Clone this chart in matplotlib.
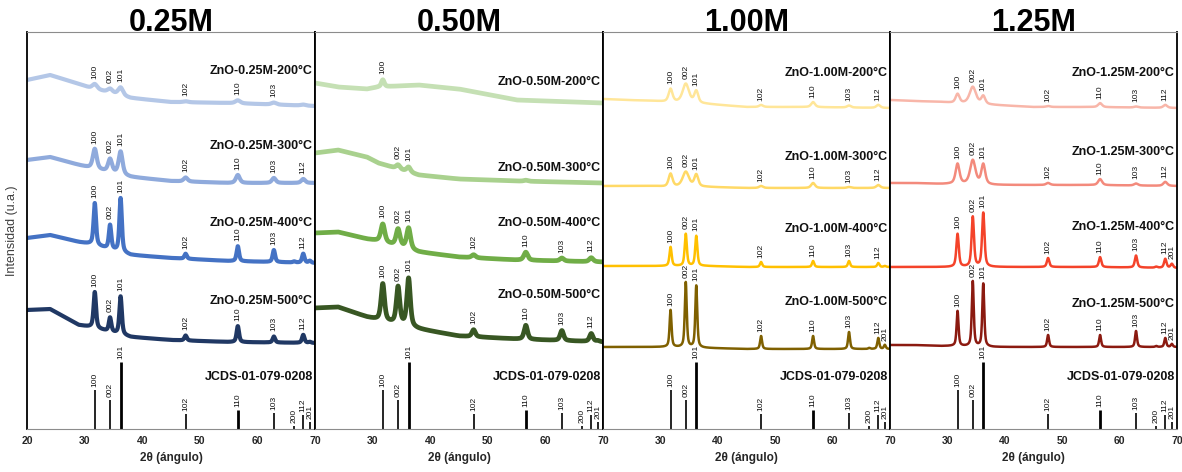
import numpy as np
import matplotlib.pyplot as plt

plt.rcParams['font.family'] = ['Liberation Sans', 'DejaVu Sans']

# ZnO reference pattern (JCDS-01-079-0208)
hkl = ['100', '002', '101', '102', '110', '103', '200', '112', '201']
two_theta = [31.77, 34.42, 36.25, 47.54, 56.60, 62.86, 66.38, 67.96, 69.10]
ref_height = [39, 29, 67, 15, 19, 16, 3, 14, 7]

concentrations = ['0.25M', '0.50M', '1.00M', '1.25M']
temperatures = ['200°C', '300°C', '400°C', '500°C']

# background level read at these 2theta values (rows: 200, 300, 400, 500 °C)
bg_knots = [20, 24, 29, 31, 38, 45, 55, 70]

bg_025 = [[349, 354, 345, 341, 331, 327, 326, 323],
          [269, 272, 264, 261, 252, 248, 246, 246],
          [191, 194, 187, 185, 174, 171, 168, 166],
          [119, 120, 104, 102, 92, 89, 87, 86]]
bg_050 = [[346, 342, 340, 342, 344, 340, 329, 326],
          [276, 279, 272, 266, 254, 250, 248, 246],
          [196, 197, 190, 188, 177, 172, 169, 167],
          [121, 122, 112, 109, 100, 93, 90, 87]]
bg_100 = [[330, 329, 328, 327, 325, 322, 322, 321],
          [243, 243, 243, 242, 242, 241, 241, 241],
          [163, 163, 163, 163, 163, 162, 162, 162],
          [82, 82, 82, 82, 81, 80, 80, 80]]
bg_125 = [[329, 328, 327, 326, 324, 322, 322, 321],
          [246, 246, 245, 245, 244, 244, 244, 243],
          [162, 162, 162, 162, 162, 162, 162, 161],
          [84, 84, 83, 83, 82, 82, 82, 82]]

# peak heights above background, same order as hkl
peaks_025 = [[5, 4, 8, 1, 3, 2, 0, 1, 0],
             [20, 13, 23, 4, 8, 5, 0, 4, 0],
             [42, 24, 54, 5, 15, 12, 1, 9, 2],
             [36, 14, 38, 5, 16, 6, 0, 8, 1]]
peaks_050 = [[7, 0, 0, 0, 0, 0, 0, 0, 0],
             [0, 4, 5, 0, 1, 0, 0, 0, 0],
             [18, 17, 21, 3, 8, 3, 0, 4, 0],
             [37, 37, 48, 7, 14, 10, 0, 8, 1]]
peaks_100 = [[13, 19, 12, 2, 5, 2, 0, 3, 0],
             [13, 15, 12, 2, 5, 1, 0, 3, 0],
             [19, 32, 30, 5, 6, 6, 0, 4, 1],
             [37, 65, 62, 13, 13, 17, 1, 11, 4]]
peaks_125 = [[9, 17, 8, 1, 4, 1, 0, 3, 0],
             [20, 24, 20, 2, 6, 2, 0, 4, 0],
             [33, 50, 54, 9, 10, 12, 1, 9, 4],
             [35, 65, 63, 12, 12, 16, 1, 9, 3]]

# peak widths (deg), and the separate width of the 002 reflection
fwhm_025 = [1.0, 0.8, 0.5, 0.5]
fwhm_050 = [0.6, 0.8, 0.8, 0.7]
fwhm_100 = [0.8, 0.8, 0.45, 0.4]
fwhm_125 = [0.8, 0.8, 0.5, 0.4]
fwhm002_025 = [1.0, 0.8, 0.5, 0.5]
fwhm002_050 = [0.6, 0.8, 0.8, 0.7]
fwhm002_100 = [1.3, 1.3, 0.45, 0.4]
fwhm002_125 = [1.3, 1.1, 0.5, 0.4]

lab7 = ['100', '002', '101', '102', '110', '103', '112']
labels_025 = [lab7[:6], lab7, lab7, lab7]
labels_050 = [['100'], ['002', '101'], lab7, lab7]
labels_100 = [lab7, lab7, lab7, lab7 + ['201']]
labels_125 = [lab7, lab7, lab7 + ['201'], lab7 + ['201']]

panels = [
    (bg_025, peaks_025, fwhm_025, fwhm002_025, labels_025),
    (bg_050, peaks_050, fwhm_050, fwhm002_050, labels_050),
    (bg_100, peaks_100, fwhm_100, fwhm002_100, labels_100),
    (bg_125, peaks_125, fwhm_125, fwhm002_125, labels_125),
]

colors = [['#b4c7e7', '#8faadc', '#4472c4', '#203864'],
          ['#c5e0b4', '#a9d18e', '#70ad47', '#385723'],
          ['#ffe699', '#ffd966', '#ffc000', '#7f6000'],
          ['#f8b6a9', '#f38a7c', '#f4432a', '#8b1a10']]
line_w = [3.0, 3.4, 1.8, 1.8]
name_y = [[358, 283, 206, 128],
          [347, 261, 206, 134],
          [356, 272, 200, 127],
          [356, 277, 202, 125]]

x = np.linspace(20, 70, 2501)


def profile(bg, heights, w, w002):
    y = np.interp(x, bg_knots, bg)
    for pos, h, name in zip(two_theta, heights, hkl):
        ww = w002 if name == '002' else w
        d = (x - pos) / (ww / 2)
        y = y + h * (0.6 / (1 + d ** 2) + 0.4 * np.exp(-np.log(2) * d ** 2))
    return y


W, H = 1182, 472
lefts = [27, 315, 603, 890, 1177]
ax_top, ax_bot = 32, 429

fig = plt.figure(figsize=(W / 100, H / 100), dpi=100)

for i, conc in enumerate(concentrations):
    l, r = lefts[i], lefts[i + 1]
    ax = fig.add_axes([l / W, (H - ax_bot) / H, (r - l) / W, (ax_bot - ax_top) / H])
    ax.set_xlim(20, 70)
    ax.set_ylim(0, ax_bot - ax_top)

    bg, pk, fw, fw2, labs = panels[i]
    for j, temp in enumerate(temperatures):
        y = profile(bg[j], pk[j], fw[j], fw2[j])
        ax.plot(x, y, color=colors[i][j], lw=line_w[i], solid_joinstyle='round')
        gap = 3 + line_w[i] * 0.7
        for name in labs[j]:
            pos = two_theta[hkl.index(name)]
            m = (x > pos - 0.35) & (x < pos + 0.35)
            ax.text(pos, y[m].max() + gap, name, rotation=90, fontsize=6,
                    ha='center', va='bottom', color='#111111')
        ax.text(69.6, name_y[i][j], 'ZnO-%s-%s' % (conc, temp), fontsize=9,
                fontweight='bold', ha='right', va='center', color='#111111')

    # reference sticks
    for pos, h, name in zip(two_theta, ref_height, hkl):
        lw = 2.0 if name in ('101', '110') else 1.2
        ax.vlines(pos, 0, h, color='black', lw=lw)
        ax.text(pos, h + 3, name, rotation=90, fontsize=6, ha='center',
                va='bottom', color='#111111')
    ax.text(69.6, 52, 'JCDS-01-079-0208', fontsize=9, fontweight='bold',
            ha='right', va='center', color='#111111')

    ax.text(0.5, 1.003, conc, transform=ax.transAxes, fontsize=22,
            fontweight='bold', ha='center', va='baseline')

    ax.set_yticks([])
    ax.set_xticks([20, 30, 40, 50, 60, 70] if i == 0 else [30, 40, 50, 60, 70])
    ax.tick_params(axis='x', length=0, pad=5, labelsize=7.5, labelcolor='#262626')
    for t in ax.get_xticklabels():
        t.set_fontweight('bold')
    ax.set_xlabel('2θ (ángulo)', fontsize=8.5, fontweight='bold', labelpad=4,
                  color='#262626')

    for s in ('left', 'right'):
        ax.spines[s].set_color('black')
        ax.spines[s].set_linewidth(1.3)
    for s in ('top', 'bottom'):
        ax.spines[s].set_color('#8c8c8c')
        ax.spines[s].set_linewidth(0.8)

    if i == 0:
        ax.text(-15 / (r - l), 0.5, 'Intensidad (u.a.)', transform=ax.transAxes,
                rotation=90, fontsize=9, ha='center', va='center', color='#404040')

fig.savefig('out.png', dpi=100)
